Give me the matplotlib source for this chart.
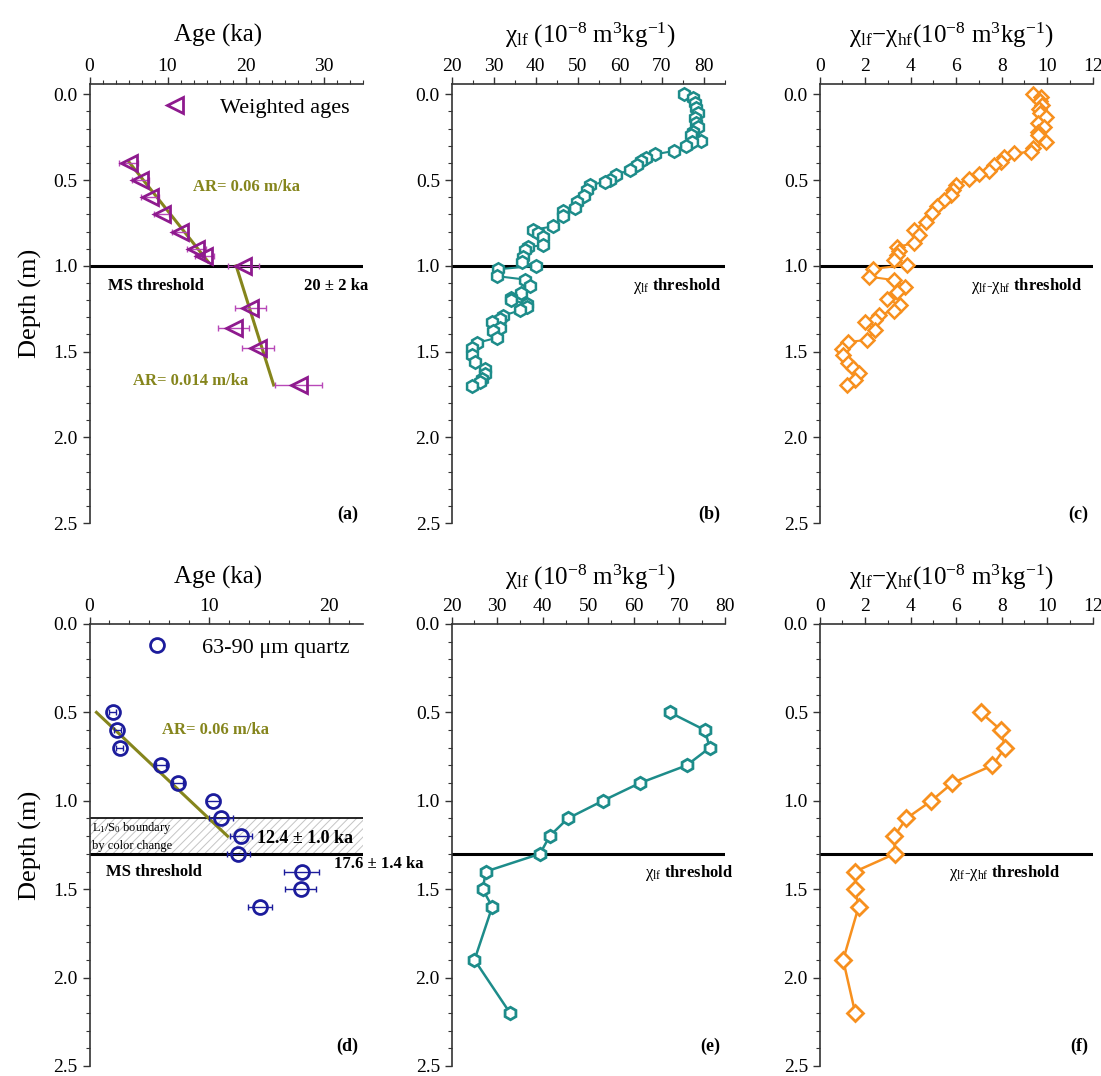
import matplotlib
matplotlib.use('Agg')
import matplotlib.pyplot as plt
from matplotlib.ticker import MultipleLocator, FormatStrFormatter
from matplotlib.lines import Line2D

plt.rcParams['font.family'] = ['Liberation Serif', 'DejaVu Serif']
plt.rcParams['mathtext.fontset'] = 'custom'
plt.rcParams['mathtext.rm'] = 'Liberation Serif'
plt.rcParams['mathtext.it'] = 'Liberation Serif:italic'
plt.rcParams['mathtext.bf'] = 'Liberation Serif:bold'
plt.rcParams['hatch.linewidth'] = 0.7

# ---------------- data ----------------
# (a) weighted ages
a_depth = [0.40, 0.50, 0.60, 0.70, 0.80, 0.90, 0.94, 1.00, 1.245, 1.365, 1.48, 1.695]
a_age = [5.0, 6.5, 7.75, 9.25, 11.6, 13.7, 14.7, 19.7, 20.6, 18.5, 21.6, 26.8]
a_err = [1.2, 1.1, 1.2, 1.0, 1.0, 1.2, 1.2, 2.0, 2.0, 2.0, 2.0, 3.0]
a_fit1_age = [4.98, 15.2]
a_fit1_depth = [0.39, 0.976]
a_fit2_age = [18.8, 23.6]
a_fit2_depth = [1.0, 1.695]

# (b) chi_lf upper profile
b_depth = [0.00, 0.02, 0.05, 0.08, 0.11, 0.14, 0.17, 0.19, 0.22, 0.24, 0.27, 0.28,
           0.30, 0.33, 0.35, 0.37, 0.39, 0.41, 0.44, 0.47, 0.50, 0.51, 0.53, 0.56,
           0.59, 0.63, 0.66, 0.68, 0.71, 0.77, 0.79, 0.81, 0.83, 0.88, 0.89, 0.91,
           0.95, 0.98, 1.00, 1.02, 1.06, 1.08, 1.12, 1.16, 1.19, 1.20, 1.22, 1.24,
           1.26, 1.29, 1.31, 1.33, 1.36, 1.38, 1.42, 1.45, 1.48, 1.52, 1.56, 1.60,
           1.63, 1.66, 1.68, 1.70]
b_chi = [75.3, 77.4, 77.8, 78.2, 78.6, 77.8, 78.2, 78.6, 77.4, 77.0, 79.4, 77.2,
         75.7, 73.0, 68.3, 66.3, 65.1, 64.1, 62.4, 59.2, 57.6, 56.4, 52.9, 52.1,
         51.5, 49.7, 49.3, 46.5, 46.5, 44.1, 39.4, 40.6, 41.8, 41.8, 38.2, 37.4,
         37.0, 36.8, 40.0, 31.1, 30.7, 37.4, 38.6, 36.6, 34.2, 34.0, 37.8, 38.0,
         36.2, 32.3, 31.5, 29.5, 31.5, 29.9, 30.7, 25.9, 24.8, 24.8, 25.6, 27.9,
         27.9, 27.1, 26.7, 24.8]

# (c) chi_lf - chi_hf upper profile
c_depth = [0.00, 0.013, 0.037, 0.062, 0.087, 0.11, 0.13, 0.169, 0.192, 0.218, 0.237,
           0.276, 0.315, 0.334, 0.344, 0.367, 0.392, 0.412, 0.445, 0.466, 0.495,
           0.529, 0.558, 0.587, 0.616, 0.651, 0.694, 0.743, 0.791, 0.820, 0.869,
           0.889, 0.914, 0.937, 0.966, 0.995, 1.018, 1.063, 1.083, 1.122, 1.151,
           1.195, 1.228, 1.261, 1.287, 1.316, 1.326, 1.375, 1.433, 1.443, 1.487,
           1.52, 1.569, 1.598, 1.627, 1.666, 1.695]
c_fd = [9.36, 9.73, 9.70, 9.76, 9.65, 9.70, 9.95, 9.58, 9.84, 9.61, 9.58,
        9.95, 9.36, 9.29, 8.55, 8.11, 7.96, 7.67, 7.45, 7.00, 6.56,
        5.97, 5.87, 5.75, 5.46, 5.16, 4.95, 4.65, 4.15, 4.36, 4.13,
        3.40, 3.47, 3.40, 3.28, 3.84, 2.33, 2.15, 3.25, 3.77, 3.40,
        2.96, 3.55, 3.25, 2.59, 2.44, 2.00, 2.44, 2.07, 1.26, 0.97,
        1.04, 1.26, 1.48, 1.71, 1.56, 1.19]

# (d) 63-90 um quartz ages
d_depth = [0.5, 0.6, 0.7, 0.8, 0.9, 1.0, 1.1, 1.2, 1.3, 1.4, 1.5, 1.6]
d_age = [1.94, 2.31, 2.53, 5.97, 7.39, 10.3, 10.97, 12.64, 12.44, 17.72, 17.64, 14.25]
d_err = [0.3, 0.3, 0.3, 0.4, 0.4, 0.6, 1.0, 0.9, 1.0, 1.45, 1.3, 1.0]
d_fit_age = [0.58, 11.53]
d_fit_depth = [0.5, 1.2]

# (e), (f) lower profile
ef_depth = [0.5, 0.6, 0.7, 0.8, 0.9, 1.0, 1.1, 1.2, 1.3, 1.4, 1.5, 1.6, 1.9, 2.2]
e_chi = [67.9, 75.6, 76.7, 71.6, 61.3, 53.2, 45.5, 41.5, 39.4, 27.5, 26.8, 28.9, 25.0, 32.8]
f_fd = [7.08, 7.96, 8.15, 7.59, 5.83, 4.91, 3.81, 3.28, 3.30, 1.56, 1.56, 1.71, 1.03, 1.56]

# ---------------- styling ----------------
PURPLE = '#8e1a8e'
PURPLE_ERR = '#b848b8'
TEAL = '#1d8c8a'
ORANGE = '#f7901e'
NAVY = '#1c1c9c'
OLIVE = '#85851c'

fig = plt.figure(figsize=(11.01, 10.76), dpi=100)
W = 0.248
lefts = [0.0813, 0.4103, 0.7445]
top_b, top_h = 0.5139, 0.408
bot_b, bot_h = 0.0093, 0.4108

axes = []
for row in range(2):
    for col in range(3):
        if row == 0:
            ax = fig.add_axes([lefts[col], top_b, W, top_h])
        else:
            ax = fig.add_axes([lefts[col], bot_b, W, bot_h])
        axes.append(ax)

def style(ax, ylim):
    ax.set_ylim(*ylim)
    ax.spines['right'].set_visible(False)
    ax.spines['bottom'].set_visible(False)
    for s in ['left', 'top']:
        ax.spines[s].set_linewidth(1.2)
        ax.spines[s].set_color('#333333')
    ax.xaxis.tick_top()
    ax.yaxis.set_major_locator(MultipleLocator(0.5))
    ax.yaxis.set_minor_locator(MultipleLocator(0.1))
    ax.yaxis.set_major_formatter(FormatStrFormatter('%.1f'))
    ax.tick_params(which='major', direction='out', length=5, width=1.0, labelsize=14,
                   color='#333333')
    ax.tick_params(which='minor', direction='out', length=3, width=0.8, color='#333333')
    ax.tick_params(axis='x', which='both', top=True, bottom=False, pad=1.5)
    ax.tick_params(axis='y', which='both', left=True, right=False)

# ----- (a)
ax = axes[0]
style(ax, (2.5, -0.06))
ax.set_xlim(0, 35)
ax.xaxis.set_major_locator(MultipleLocator(10))
ax.xaxis.set_minor_locator(MultipleLocator(10 / 6))
ax.axhline(1.0, color='black', lw=2.2, zorder=2)
ax.plot(a_fit1_age, a_fit1_depth, color=OLIVE, lw=2.2, zorder=3)
ax.plot(a_fit2_age, a_fit2_depth, color=OLIVE, lw=2.2, zorder=3)
ax.errorbar(a_age, a_depth, xerr=a_err, fmt='none', ecolor=PURPLE_ERR, elinewidth=1.0,
            capsize=2.5, capthick=1.0, zorder=4)
ax.plot(a_age, a_depth, ls='none', marker='<', ms=11, mfc='none', mec=PURPLE, mew=2.0, zorder=5)
ax.legend(handles=[Line2D([], [], ls='none', marker='<', ms=11, mfc='none', mec=PURPLE, mew=2.0)],
          labels=['Weighted ages'], loc='upper right', frameon=False, fontsize=16,
          handletextpad=1.0, borderaxespad=0.2)
ax.text(13.3, 0.54, 'AR= 0.06 m/ka', color=OLIVE, fontsize=12, fontweight='bold', va='center')
ax.text(2.4, 1.12, 'MS threshold', color='black', fontsize=12, fontweight='bold', va='center')
ax.text(35.7, 1.12, '20 ± 2 ka', color='black', fontsize=12, fontweight='bold', va='center',
        ha='right', clip_on=False)
ax.text(5.6, 1.67, 'AR= 0.014 m/ka', color=OLIVE, fontsize=12, fontweight='bold', va='center')
ax.set_ylabel('Depth (m)', fontsize=19, labelpad=8)

# ----- (b)
ax = axes[1]
style(ax, (2.5, -0.06))
ax.set_xlim(20, 85)
ax.xaxis.set_major_locator(MultipleLocator(10))
ax.xaxis.set_minor_locator(MultipleLocator(5))
ax.axhline(1.0, color='black', lw=2.2, zorder=2)
ax.plot(b_chi, b_depth, color=TEAL, lw=1.5, marker='h', ms=9, mfc='white', mec=TEAL, mew=1.8, zorder=4)
ax.text(63.1, 1.12, 'χ$_{\\mathrm{lf}}$ $\\mathbf{threshold}$', fontsize=12, va='center')

# ----- (c)
ax = axes[2]
style(ax, (2.5, -0.06))
ax.set_xlim(0, 12)
ax.xaxis.set_major_locator(MultipleLocator(2))
ax.xaxis.set_minor_locator(MultipleLocator(1))
ax.axhline(1.0, color='black', lw=2.2, zorder=2)
ax.plot(c_fd, c_depth, color=ORANGE, lw=1.5, marker='D', ms=7.5, mfc='white', mec=ORANGE, mew=1.8, zorder=4)
ax.text(6.64, 1.12, 'χ$_{\\mathrm{lf}}$-χ$_{\\mathrm{hf}}$ $\\mathbf{threshold}$', fontsize=12, va='center')

# ----- (d)
ax = axes[3]
style(ax, (2.5, 0.0))
ax.set_xlim(0, 22.8)
ax.xaxis.set_major_locator(MultipleLocator(10))
ax.xaxis.set_minor_locator(MultipleLocator(10 / 6))
ax.axhspan(1.1, 1.3, facecolor='none', edgecolor='#c4c4c4', hatch='////', lw=0, zorder=1)
ax.axhline(1.1, color='black', lw=1.2, zorder=2)
ax.axhline(1.3, color='black', lw=2.2, zorder=2)
ax.plot(d_fit_age, d_fit_depth, color=OLIVE, lw=2.2, zorder=3)
ax.errorbar(d_age, d_depth, xerr=d_err, fmt='none', ecolor=NAVY, elinewidth=1.0,
            capsize=2.5, capthick=1.0, zorder=4)
ax.plot(d_age, d_depth, ls='none', marker='o', ms=10, mfc='none', mec=NAVY, mew=2.0, zorder=5)
ax.legend(handles=[Line2D([], [], ls='none', marker='o', ms=10, mfc='none', mec=NAVY, mew=2.0)],
          labels=['63-90 μm quartz'], loc='upper right', frameon=False, fontsize=16,
          handletextpad=1.0, borderaxespad=0.2)
ax.text(6.06, 0.60, 'AR= 0.06 m/ka', color=OLIVE, fontsize=12, fontweight='bold', va='center')
ax.text(0.22, 1.152, 'L$_{\\mathrm{1}}$/S$_{\\mathrm{0}}$ boundary', fontsize=9, va='center')
ax.text(0.22, 1.256, 'by color change', fontsize=9, va='center')
ax.text(22.0, 1.213, '12.4 ± 1.0 ka', fontsize=13, fontweight='bold', va='center', ha='right')
ax.text(20.4, 1.36, '17.6 ± 1.4 ka', fontsize=12, fontweight='bold', va='center', clip_on=False)
ax.text(1.4, 1.40, 'MS threshold', fontsize=12, fontweight='bold', va='center')
ax.set_ylabel('Depth (m)', fontsize=19, labelpad=8)

# ----- (e)
ax = axes[4]
style(ax, (2.5, 0.0))
ax.set_xlim(20, 80)
ax.xaxis.set_major_locator(MultipleLocator(10))
ax.xaxis.set_minor_locator(MultipleLocator(5))
ax.axhline(1.3, color='black', lw=2.2, zorder=2)
ax.plot(e_chi, ef_depth, color=TEAL, lw=1.8, marker='h', ms=9, mfc='white', mec=TEAL, mew=2.0, zorder=4)
ax.text(62.4, 1.41, 'χ$_{\\mathrm{lf}}$ $\\mathbf{threshold}$', fontsize=12, va='center')

# ----- (f)
ax = axes[5]
style(ax, (2.5, 0.0))
ax.set_xlim(0, 12)
ax.xaxis.set_major_locator(MultipleLocator(2))
ax.xaxis.set_minor_locator(MultipleLocator(1))
ax.axhline(1.3, color='black', lw=2.2, zorder=2)
ax.plot(f_fd, ef_depth, color=ORANGE, lw=1.8, marker='D', ms=8, mfc='white', mec=ORANGE, mew=2.0, zorder=4)
ax.text(5.7, 1.41, 'χ$_{\\mathrm{lf}}$-χ$_{\\mathrm{hf}}$ $\\mathbf{threshold}$', fontsize=12, va='center')

# panel letters
letters = ['(a)', '(b)', '(c)', '(d)', '(e)', '(f)']
for i, ax in enumerate(axes):
    yy = 0.02 if i < 3 else 0.045
    ax.text(0.985, yy, letters[i], transform=ax.transAxes, ha='right', va='center',
            fontsize=13, fontweight='bold')

# column titles
titles = ['Age (ka)',
          'χ$_{\\mathrm{lf}}$ (10$^{-8}$ m$^{3}$kg$^{-1}$)',
          'χ$_{\\mathrm{lf}}$−χ$_{\\mathrm{hf}}$(10$^{-8}$ m$^{3}$kg$^{-1}$)']
tx = [0.198, 0.536, 0.864]
for i in range(3):
    fig.text(tx[i], 0.967, titles[i], ha='center', va='center', fontsize=18)
    fig.text(tx[i], 0.463, titles[i], ha='center', va='center', fontsize=18)

fig.savefig('out.png', dpi=100, facecolor='white')
